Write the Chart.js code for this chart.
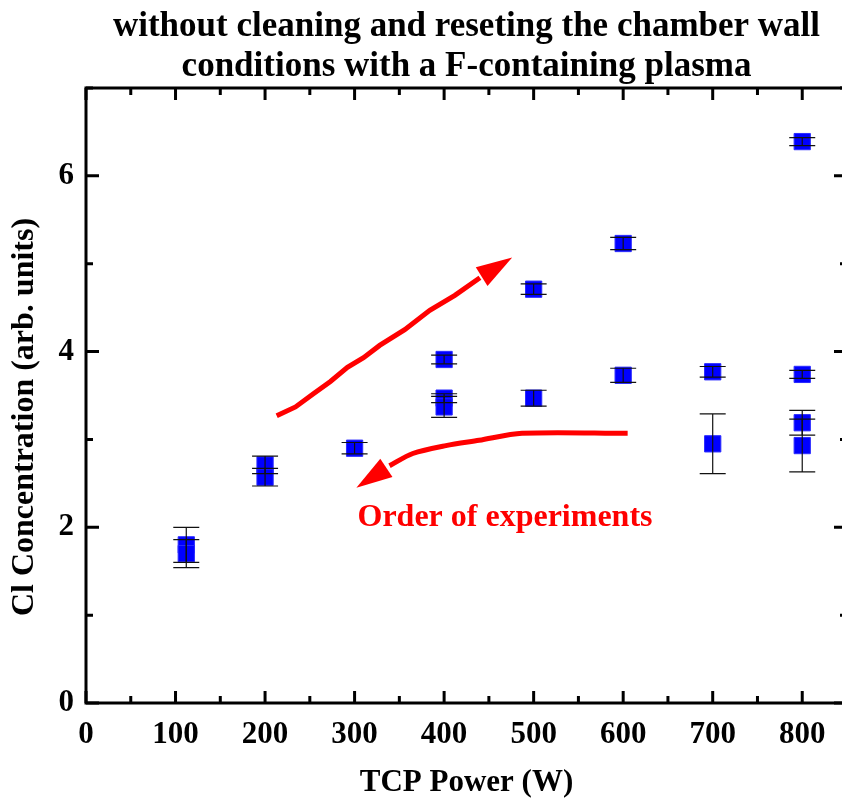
<!DOCTYPE html>
<html>
<head>
<meta charset="utf-8">
<script src="https://cdn.jsdelivr.net/npm/chart.js@4"></script>
<style>
    html, body { margin: 0; padding: 0; background: #fff; overflow: hidden; }
    #box { width: 848px; height: 802px; }
</style>
</head>
<body>
<div id="box"><canvas id="grafico"></canvas></div>
<script>
// datos
const power = [112, 112, 200, 200, 300, 400, 400, 400, 500, 500, 600, 600, 700, 700, 800, 800, 800, 800];
const clConc = [1.80, 1.70, 2.71, 2.57, 2.90, 3.91, 3.47, 3.37, 4.71, 3.47, 5.23, 3.73, 3.77, 2.95, 6.39, 3.74, 3.19, 2.93];
const clErr = [0.20, 0.16, 0.10, 0.10, 0.065, 0.05, 0.05, 0.12, 0.06, 0.09, 0.07, 0.08, 0.06, 0.34, 0.045, 0.045, 0.14, 0.30];

const xTicks = [0, 100, 200, 300, 400, 500, 600, 700, 800];
const yTicks = [0, 2, 4, 6];

// flechas roja (en unidades de datos)
const arrowUpX = [213, 234, 254, 273, 292, 310, 328, 356, 384, 412, 440];
const arrowUpY = [3.27, 3.37, 3.52, 3.66, 3.82, 3.93, 4.07, 4.25, 4.47, 4.64, 4.84];
const arrowUpTip = [476, 5.07];
const arrowDownX = [605, 487, 439, 402, 365, 339];
const arrowDownY = [3.07, 3.07, 2.99, 2.93, 2.84, 2.70];
const arrowDownTip = [302, 2.45];
const noteText = "Order of experiments";
const notePos = [468, 2.02];

const serif = "'Liberation Serif', 'Times New Roman', serif";

function head(ctx, x, y, from, tip, len, half) {
    const x0 = x.getPixelForValue(from[0]), y0 = y.getPixelForValue(from[1]);
    const x1 = x.getPixelForValue(tip[0]), y1 = y.getPixelForValue(tip[1]);
    const a = Math.atan2(y1 - y0, x1 - x0);
    const bx = x1 - len * Math.cos(a), by = y1 - len * Math.sin(a);
    ctx.beginPath();
    ctx.moveTo(x1, y1);
    ctx.lineTo(bx + half * Math.sin(a), by - half * Math.cos(a));
    ctx.lineTo(bx - half * Math.sin(a), by + half * Math.cos(a));
    ctx.closePath();
    ctx.fill();
}

const extras = {
    id: "extras",
    afterDatasetsDraw(chart) {
        const { ctx, scales: { x, y } } = chart;
        ctx.save();
        // barras de error
        ctx.strokeStyle = "#111";
        ctx.lineWidth = 1.2;
        power.forEach((p, i) => {
            const px = x.getPixelForValue(p);
            const t = y.getPixelForValue(clConc[i] + clErr[i]);
            const b = y.getPixelForValue(clConc[i] - clErr[i]);
            ctx.beginPath();
            ctx.moveTo(px, t); ctx.lineTo(px, b);
            ctx.moveTo(px - 13, t); ctx.lineTo(px + 13, t);
            ctx.moveTo(px - 13, b); ctx.lineTo(px + 13, b);
            ctx.stroke();
        });
        // puntas de flecha
        ctx.fillStyle = "#ff0000";
        const n1 = arrowUpX.length - 1, n2 = arrowDownX.length - 1;
        head(ctx, x, y, [arrowUpX[n1], arrowUpY[n1]], arrowUpTip, 36, 11);
        head(ctx, x, y, [arrowDownX[n2], arrowDownY[n2]], arrowDownTip, 36, 11);
        // texto
        ctx.font = "bold 32px " + serif;
        ctx.textAlign = "center";
        ctx.textBaseline = "alphabetic";
        ctx.fillText(noteText, x.getPixelForValue(notePos[0]), y.getPixelForValue(notePos[1]));
        ctx.restore();
    },
    afterDraw(chart) {
        const { ctx, chartArea: a, scales: { x, y } } = chart;
        ctx.save();
        ctx.strokeStyle = "#000";
        ctx.lineWidth = 3;
        ctx.strokeRect(a.left, a.top, a.right - a.left, a.bottom - a.top);
        ctx.beginPath();
        for (let v = 0; v <= 850; v += 50) {
            const px = x.getPixelForValue(v);
            const l = v % 100 === 0 ? 12 : 7;
            ctx.moveTo(px, a.bottom); ctx.lineTo(px, a.bottom - l);
            ctx.moveTo(px, a.top); ctx.lineTo(px, a.top + l);
        }
        for (let v = 0; v <= 7; v += 1) {
            const py = y.getPixelForValue(v);
            const l = v % 2 === 0 ? 13 : 7;
            ctx.moveTo(a.left, py); ctx.lineTo(a.left + l, py);
            ctx.moveTo(a.right, py); ctx.lineTo(a.right - l, py);
        }
        ctx.stroke();
        // titulo eje y
        ctx.fillStyle = "#000";
        ctx.font = "bold 32px " + serif;
        ctx.textAlign = "center";
        ctx.textBaseline = "middle";
        ctx.translate(25, 417);
        ctx.rotate(-Math.PI / 2);
        ctx.fillText("Cl Concentration (arb. units)", 0, 0);
        ctx.restore();
    }
};

document.addEventListener("DOMContentLoaded", function () {
    var ctx = document.getElementById("grafico").getContext("2d");
    var grafico = new Chart(ctx, {
        type: "scatter",
        data: {
            datasets: [
                {
                    label: "Cl",
                    data: power.map((p, i) => ({ x: p, y: clConc[i] })),
                    pointStyle: "rect",
                    pointRadius: 11.5,
                    pointHoverRadius: 11.5,
                    backgroundColor: "#0000ff",
                    borderColor: "#2a2aff",
                    borderWidth: 1,
                },
                {
                    type: "line",
                    label: "up",
                    data: arrowUpX.map((v, i) => ({ x: v, y: arrowUpY[i] })),
                    borderColor: "#ff0000",
                    borderWidth: 5,
                    pointRadius: 0,
                    tension: 0,
                    fill: false,
                },
                {
                    type: "line",
                    label: "down",
                    data: arrowDownX.map((v, i) => ({ x: v, y: arrowDownY[i] })),
                    borderColor: "#ff0000",
                    borderWidth: 5,
                    pointRadius: 0,
                    tension: 0.3,
                    fill: false,
                },
            ],
        },
        options: {
            responsive: true,
            maintainAspectRatio: false,
            animation: false,
            layout: { autoPadding: false, padding: { left: 0, right: 1, top: 0, bottom: 0 } },
            plugins: {
                legend: { display: false },
                tooltip: { enabled: false },
                title: {
                    display: true,
                    fullSize: false,
                    text: ["without cleaning and reseting the chamber wall", "conditions with a F-containing plasma"],
                    color: "#000",
                    font: { family: serif, size: 35, weight: "bold", lineHeight: 1.15 },
                    padding: { top: 7, bottom: 0.5 },
                },
            },
            scales: {
                x: {
                    type: "linear",
                    min: 0,
                    max: 850,
                    grid: { display: false, drawTicks: false },
                    border: { display: false },
                    afterBuildTicks: (s) => { s.ticks = xTicks.map(v => ({ value: v })); },
                    afterFit: (s) => { s.height = 99; s.paddingLeft = 0; s.paddingRight = 0; },
                    ticks: {
                        color: "#000",
                        padding: 13,
                        maxRotation: 0,
                        font: { family: serif, size: 31, weight: "bold" },
                    },
                    title: {
                        display: true,
                        text: "TCP Power (W)",
                        color: "#000",
                        padding: { top: 0, bottom: 0 },
                        font: { family: serif, size: 31, weight: "bold" },
                    },
                },
                y: {
                    type: "linear",
                    min: 0,
                    max: 7,
                    grid: { display: false, drawTicks: false },
                    border: { display: false },
                    afterBuildTicks: (s) => { s.ticks = yTicks.map(v => ({ value: v })); },
                    afterFit: (s) => { s.width = 86; s.paddingTop = 0; s.paddingBottom = 0; },
                    ticks: {
                        color: "#000",
                        padding: 12,
                        font: { family: serif, size: 31, weight: "bold" },
                    },
                },
            },
        },
        plugins: [extras],
    });
});
</script>
</body>
</html>
